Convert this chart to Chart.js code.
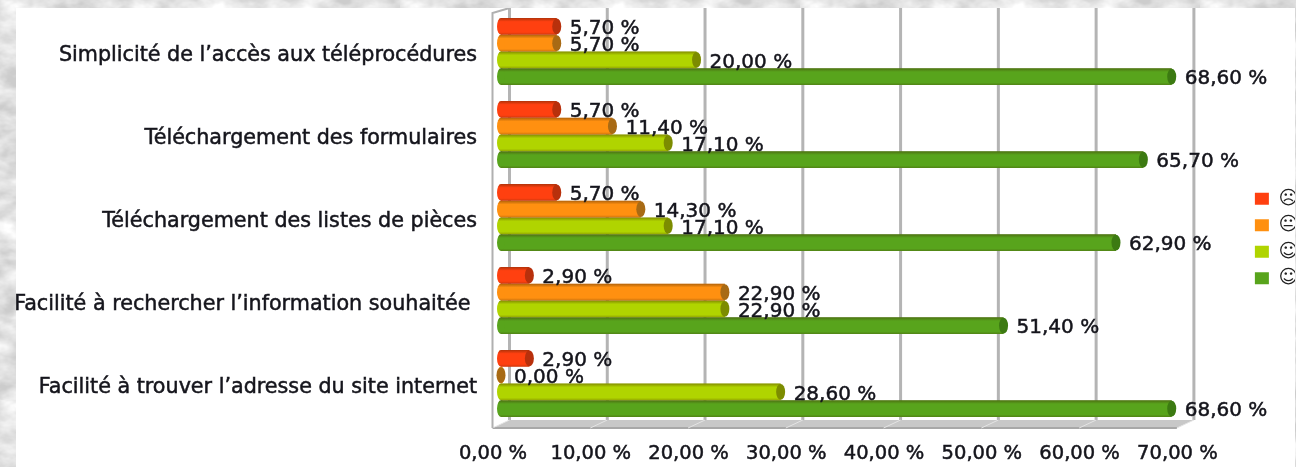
<!DOCTYPE html>
<html>
<head>
<meta charset="utf-8">
<title>Satisfaction</title>
<script src="https://cdn.jsdelivr.net/npm/chart.js@4"></script>
<style>
html, body { margin: 0; height: 100%; overflow: hidden; }
body {
    background-color: #e4e4e4;
    background-image: url("data:image/svg+xml,%3Csvg xmlns='http://www.w3.org/2000/svg' width='400' height='400'%3E%3Cfilter id='n'%3E%3CfeTurbulence type='fractalNoise' baseFrequency='0.03 0.05' numOctaves='4' seed='4'/%3E%3CfeColorMatrix values='0 0 0 0 1 0 0 0 0 1 0 0 0 0 1 0 0 0 -1.8 1.3'/%3E%3C/filter%3E%3Crect width='400' height='400' fill='%23cccccc'/%3E%3Crect width='400' height='400' filter='url(%23n)'/%3E%3C/svg%3E");
}
#panel { position: absolute; left: 16px; top: 8px; width: 1279px; height: 459px; background: #fff; overflow: hidden; }
#wrap { position: absolute; left: 0; top: 0; width: 1312px; height: 459px; filter: blur(0.45px); }
</style>
</head>
<body>
<div id="panel"><div id="wrap"><canvas id="chart"></canvas></div></div>
<script>
// Categories, top to bottom
const categories = [
    'Simplicité de l’accès aux téléprocédures',
    'Téléchargement des formulaires',
    'Téléchargement des listes de pièces',
    'Facilité à rechercher l’information souhaitée ',
    'Facilité à trouver l’adresse du site internet'
];

// Values per smiley, in %
const tresInsatisfait = [5.7, 5.7, 5.7, 2.9, 2.9];
const insatisfait = [5.7, 11.4, 14.3, 22.9, 0];
const satisfait = [20, 17.1, 17.1, 22.9, 28.6];
const tresSatisfait = [68.6, 65.7, 62.9, 51.4, 68.6];

const smileys = ['\u2639', '\u{1F610}', '\u263A', '\u263A\u263A'];
const barColors = ['#ff4010', '#ff9010', '#b0d400', '#58a41c'];
const capColors = ['#b8300c', '#a86a14', '#7c8c00', '#3c7a12'];

const xTickMax = 70;
const xScaleMax = 76.34;
const font = 'DejaVu Sans';
const textColor = '#15151c';

function frenchPercent(v) {
    return v.toFixed(2).replace('.', ',') + ' %';
}

// Fake 3D walls: the floor and the back grid lines, behind the bars
const walls = {
    id: 'walls',
    beforeDatasetsDraw(chart) {
        const c = chart.ctx;
        const x = chart.scales.x;
        const top = 0;
        const floorBack = chart.chartArea.bottom - 5;
        const floorFront = chart.chartArea.bottom + 3;
        const depth = 8.5;
        c.save();
        // floor
        c.fillStyle = '#c8c8c8';
        c.beginPath();
        c.moveTo(x.getPixelForValue(0) - depth, floorFront);
        c.lineTo(x.getPixelForValue(0) + depth, floorBack);
        c.lineTo(x.getPixelForValue(xTickMax) + depth, floorBack);
        c.lineTo(x.getPixelForValue(xTickMax) - depth, floorFront);
        c.closePath();
        c.fill();
        c.strokeStyle = '#a8a8a8';
        c.lineWidth = 2;
        c.beginPath();
        c.moveTo(x.getPixelForValue(0) - depth, floorFront);
        c.lineTo(x.getPixelForValue(xTickMax) - depth, floorFront);
        c.stroke();
        // back grid lines with their slant on the floor
        c.lineWidth = 3;
        x.ticks.forEach((t, i) => {
            const px = x.getPixelForTick(i);
            c.strokeStyle = '#b4b4b4';
            c.beginPath();
            c.moveTo(px + depth, top);
            c.lineTo(px + depth, floorBack);
            c.stroke();
            c.lineWidth = 1;
            c.strokeStyle = '#e4e4e4';
            c.beginPath();
            c.moveTo(px + depth, floorBack);
            c.lineTo(px - depth, floorFront);
            c.stroke();
            c.lineWidth = 3;
        });
        // left wall
        c.lineWidth = 2;
        c.strokeStyle = '#b0b0b0';
        c.beginPath();
        c.moveTo(x.getPixelForValue(0) - depth, floorFront);
        c.lineTo(x.getPixelForValue(0) - depth, 5);
        c.lineTo(x.getPixelForValue(0) + depth, 0);
        c.stroke();
        c.restore();
    }
};

// Rounded ends and shading of the cylinders, then the value labels
const cylinders = {
    id: 'cylinders',
    afterDatasetsDraw(chart) {
        const c = chart.ctx;
        c.save();
        chart.data.datasets.forEach((ds, di) => {
            chart.getDatasetMeta(di).data.forEach(bar => {
                const h = bar.height;
                const top = bar.y - h / 2;
                c.fillStyle = barColors[di];
                c.beginPath();
                c.ellipse(bar.base, bar.y, 4, h / 2, 0, 0, Math.PI * 2);
                c.fill();
                if (bar.x > bar.base) {
                    const g = c.createLinearGradient(0, top, 0, top + h);
                    g.addColorStop(0, 'rgba(60,30,0,0.4)');
                    g.addColorStop(0.22, 'rgba(60,30,0,0)');
                    g.addColorStop(0.85, 'rgba(60,30,0,0)');
                    g.addColorStop(1, 'rgba(60,30,0,0.25)');
                    c.fillStyle = g;
                    c.beginPath();
                    c.ellipse(bar.base, bar.y, 4, h / 2, 0, Math.PI / 2, Math.PI * 1.5);
                    c.lineTo(bar.x, top);
                    c.lineTo(bar.x, top + h);
                    c.closePath();
                    c.fill();
                }
                c.fillStyle = capColors[di];
                c.beginPath();
                c.ellipse(bar.x, bar.y, 4.5, h / 2 - 0.5, 0, 0, Math.PI * 2);
                c.fill();
            });
        });
        // labels go last so they sit over the neighbouring bars
        c.fillStyle = textColor;
        c.strokeStyle = textColor;
        c.lineWidth = 0.5;
        c.font = '20px "' + font + '"';
        c.textBaseline = 'middle';
        c.textAlign = 'left';
        chart.data.datasets.forEach((ds, di) => {
            chart.getDatasetMeta(di).data.forEach((bar, i) => {
                const label = frenchPercent(ds.data[i]);
                c.fillText(label, bar.x + 13, bar.y + 2.5);
                c.strokeText(label, bar.x + 13, bar.y + 2.5);
            });
        });
        c.restore();
    }
};

const seriesValues = [tresInsatisfait, insatisfait, satisfait, tresSatisfait];

new Chart(document.getElementById('chart'), {
    type: 'bar',
    data: {
        labels: categories,
        datasets: seriesValues.map((values, i) => ({
            label: smileys[i],
            data: values,
            backgroundColor: barColors[i],
            categoryPercentage: 0.807,
            barPercentage: 1
        }))
    },
    options: {
        indexAxis: 'y',
        responsive: true,
        maintainAspectRatio: false,
        animation: false,
        layout: { padding: { top: 2 } },
        scales: {
            x: {
                min: 0,
                max: xScaleMax,
                grid: { display: false },
                border: { display: false },
                afterFit(scale) { scale.height = 42; },
                ticks: {
                    stepSize: 10,
                    includeBounds: false,
                    maxRotation: 0,
                    autoSkip: false,
                    padding: 9,
                    labelOffset: -8,
                    color: textColor,
                    textStrokeColor: textColor,
                    textStrokeWidth: 0.5,
                    font: { family: font, size: 19.5 },
                    callback: v => frenchPercent(v)
                }
            },
            y: {
                grid: { display: false, drawTicks: false },
                border: { display: false },
                // the tick padding would otherwise be added above and below the axis
                afterFit(scale) {
                    scale.width = 485;
                    scale.paddingTop = 0;
                    scale.paddingBottom = 0;
                },
                ticks: {
                    padding: 24,
                    autoSkip: false,
                    color: textColor,
                    textStrokeColor: textColor,
                    textStrokeWidth: 0.5,
                    labelOffset: 4,
                    font: { family: font, size: 20.7 }
                }
            }
        },
        plugins: {
            tooltip: { enabled: false },
            legend: {
                position: 'right',
                labels: {
                    boxWidth: 14,
                    boxHeight: 12,
                    padding: 7.5,
                    color: '#222',
                    font: { family: font, size: 19 }
                }
            }
        }
    },
    plugins: [walls, cylinders]
});
</script>
</body>
</html>
